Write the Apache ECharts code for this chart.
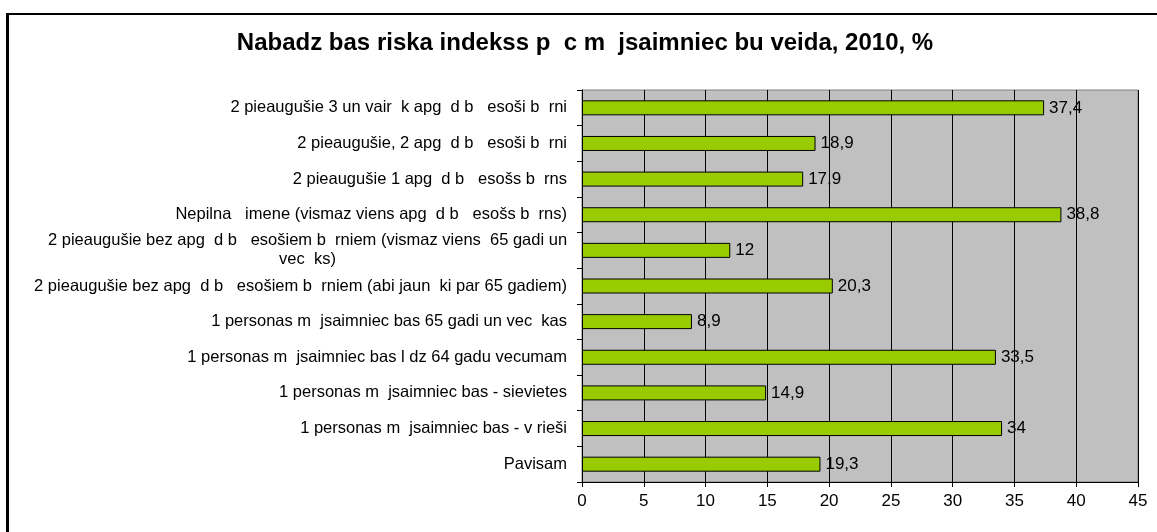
<!DOCTYPE html>
<html>
<head>
<meta charset="utf-8">
<script src="https://cdn.jsdelivr.net/npm/echarts@6/dist/echarts.min.js"></script>
<style>
  html, body { margin: 0; padding: 0; background: #fff; overflow: hidden; }
  #frame {
    position: absolute; left: 6px; top: 13px; width: 1300px; height: 700px;
    border-left: 3px solid #000; border-top: 2px solid #000;
  }
  #chart { position: absolute; left: 0; top: 0; width: 1157px; height: 532px; }
</style>
</head>
<body>
<div id="frame"></div>
<div id="chart"></div>
<script>
// top-to-bottom order as shown
const categories = [
  "2 pieaugušie 3 un vair  k apg  d b   esoši b  rni",
  "2 pieaugušie, 2 apg  d b   esoši b  rni",
  "2 pieaugušie 1 apg  d b   esošs b  rns",
  "Nepilna   imene (vismaz viens apg  d b   esošs b  rns)",
  "2 pieaugušie bez apg  d b   esošiem b  rniem (vismaz viens  65 gadi un\nvec  ks)",
  "2 pieaugušie bez apg  d b   esošiem b  rniem (abi jaun  ki par 65 gadiem)",
  "1 personas m  jsaimniec bas 65 gadi un vec  kas",
  "1 personas m  jsaimniec bas l dz 64 gadu vecumam",
  "1 personas m  jsaimniec bas - sievietes",
  "1 personas m  jsaimniec bas - v rieši",
  "Pavisam"
];
const values = [37.4, 18.9, 17.9, 38.8, 12, 20.3, 8.9, 33.5, 14.9, 34, 19.3];
const xTicks = { min: 0, max: 45, interval: 5 };

const chart = echarts.init(document.getElementById("chart"));
const font = "'Liberation Sans', Arial, sans-serif";

chart.setOption({
  animation: false,
  textStyle: { fontFamily: font },
  title: {
    text: "Nabadz bas riska indekss p  c m  jsaimniec bu veida, 2010, %",
    left: 580,
    textAlign: "center",
    top: 26,
    textStyle: { fontFamily: font, fontSize: 24, fontWeight: "bold", color: "#000" }
  },
  grid: {
    left: 582,
    right: 19,
    top: 90,
    bottom: 50,
    show: true,
    backgroundColor: "#c0c0c0",
    borderColor: "#808080",
    borderWidth: 1
  },
  xAxis: {
    type: "value",
    min: xTicks.min,
    max: xTicks.max,
    interval: xTicks.interval,
    axisLine: { show: true, lineStyle: { color: "#000", width: 1 } },
    axisTick: { show: true, length: 5, lineStyle: { color: "#000" } },
    axisLabel: { color: "#000", fontSize: 17, margin: 11, fontFamily: font },
    splitLine: { show: true, lineStyle: { color: "#000", width: 1 } }
  },
  yAxis: {
    type: "category",
    inverse: true,
    data: categories,
    axisLine: { show: true, lineStyle: { color: "#000", width: 1 } },
    axisTick: { show: true, length: 5, lineStyle: { color: "#000" } },
    axisLabel: {
      color: "#000", fontSize: 16.5, margin: 15, fontFamily: font,
      align: "right", lineHeight: 19,
      formatter: (v) => v.includes("\n")
        ? v.split("\n").map((s) => "{c|" + s + "}").join("\n")
        : v,
      rich: {
        c: { width: 519, align: "center", fontSize: 16.5, fontFamily: font, color: "#000", lineHeight: 19 }
      }
    },
    splitLine: { show: false }
  },
  series: [{
    type: "bar",
    data: values,
    barWidth: 15,
    itemStyle: { color: "#99cc00", borderColor: "#000", borderWidth: 1 },
    label: {
      show: true,
      position: "right",
      distance: 5,
      color: "#000",
      fontSize: 17,
      fontFamily: font,
      formatter: (p) => String(p.value).replace(".", ",")
    }
  }]
});
</script>
</body>
</html>
